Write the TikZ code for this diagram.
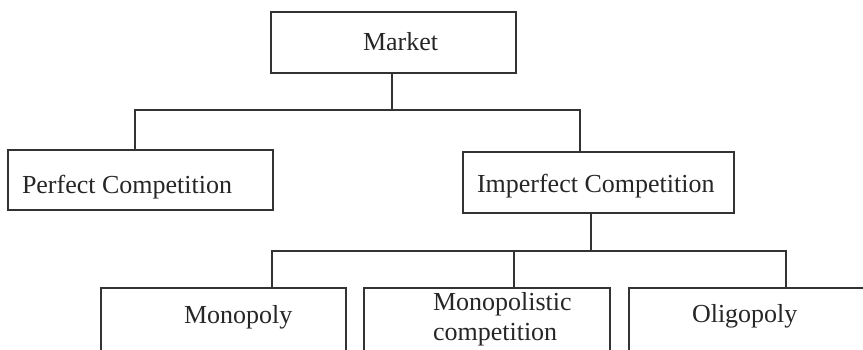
\documentclass[tikz,border=0pt]{standalone}
\usepackage{fontspec}
\setmainfont{Liberation Serif}
\begin{document}
\begin{tikzpicture}[x=1pt,y=-1pt,
  box/.style={draw=black!80,line width=2.8pt,inner sep=0pt,outer sep=0pt,anchor=north west,rectangle},
  lbl/.style={inner sep=0pt,outer sep=0pt,anchor=base west,font=\fontsize{26}{30}\selectfont,text=black!85},
  conn/.style={draw=black!80,line width=2.8pt}]
\useasboundingbox (0,0) rectangle (863,349);
\clip (0,0) rectangle (863,349);
% boxes
\node[box,minimum width=245pt,minimum height=61pt] (market) at (271,12) {};
\node[box,minimum width=265pt,minimum height=60pt] (perfect) at (8,150) {};
\node[box,minimum width=271pt,minimum height=61pt] (imperfect) at (463,152) {};
\node[box,minimum width=245pt,minimum height=64pt] (monopoly) at (101,288) {};
\node[box,minimum width=246pt,minimum height=64pt] (monocomp) at (364,288) {};
\node[box,minimum width=250pt,minimum height=64pt] (oligopoly) at (629,288) {};
% texts
\node[lbl] (tmarket) at (363,50) {Market};
\node[lbl] (tperfect) at (22,193) {Perfect Competition};
\node[lbl] (timperfect) at (477,192) {Imperfect Competition};
\node[lbl] (tmonopoly) at (184,323) {Monopoly};
\node[lbl] (tmono1) at (433,310) {Monopolistic};
\node[lbl] (tmono2) at (433,340) {competition};
\node[lbl] (toligopoly) at (692,322) {Oligopoly};
% junctions
\coordinate (h1L) at (135,110);
\coordinate (h1M) at (392,110);
\coordinate (h1R) at (580,110);
\coordinate (h2L) at (272,251);
\coordinate (h2M) at (591,251);
\coordinate (h2C) at (514,251);
\coordinate (h2R) at (786,251);
% connectors
\draw[conn] (market.south -| h1M) -- (h1M);
\draw[conn] (perfect.north -| h1L) -- (h1L) -- (h1R) -- (imperfect.north -| h1R);
\draw[conn] (imperfect.south -| h2M) -- (h2M);
\draw[conn] (monopoly.north -| h2L) -- (h2L) -- (h2R) -- (oligopoly.north -| h2R);
\draw[conn] (h2C) -- (monocomp.north -| h2C);
\end{tikzpicture}
\end{document}
